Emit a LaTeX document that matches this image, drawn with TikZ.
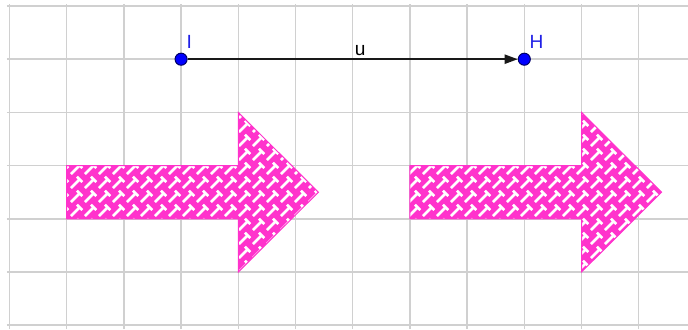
\documentclass[tikz,border=0pt]{standalone}
\usepackage{fontspec}
\setmainfont{Liberation Sans}
\usetikzlibrary{arrows.meta, patterns}
\definecolor{gridc}{HTML}{D0D0D0}
\definecolor{mag}{HTML}{FF33CC}
\definecolor{ptblu}{HTML}{0000FF}
\definecolor{lblblu}{HTML}{2020E6}

% white basket weave on the arrows
\pgfdeclarepatternformonly{weave}{\pgfpointorigin}{\pgfpoint{7pt}{7pt}}{\pgfpoint{7pt}{7pt}}{
  \pgfsetlinewidth{1.4pt}
  \pgfpathmoveto{\pgfpoint{0.5pt}{0.5pt}}
  \pgfpathlineto{\pgfpoint{4.7pt}{4.7pt}}
  \pgfpathmoveto{\pgfpoint{3.7pt}{6.5pt}}
  \pgfpathlineto{\pgfpoint{6.5pt}{3.7pt}}
  \pgfusepath{stroke}
}

\tikzset{
  gridln/.style = {draw=gridc, line width=0.75pt},
  pt/.style     = {circle, draw=blue!40!black, line width=0.5pt, fill=ptblu,
                   inner sep=0pt, minimum size=6pt},
  lbl/.style    = {text=lblblu, font=\fontsize{9.5}{11}\selectfont,
                   inner sep=0pt, anchor=base west},
  vec/.style    = {-{Triangle[length=6.5pt,width=4.5pt]}, line width=1pt,
                   color=black!90},
  bigarr/.style = {draw=mag, line width=0.5pt, preaction={fill=mag},
                   pattern=weave, pattern color=white},
}

\begin{document}
\begin{tikzpicture}[x=1cm, y=0.93cm]
  \useasboundingbox (-0.166,-0.075) rectangle (11.862,6.113);

  % grid
  \foreach \i in {0,...,11}
    \draw[gridln] (\i,-0.075) -- (\i,6.038);
  \foreach \j in {0,...,6}
    \draw[gridln] (-0.044,\j) -- (11.862,\j);

  % the two arrows, one the image of the other by u
  \foreach \s in {0,6}
    \path[bigarr] (1+\s,2) -- (4+\s,2) -- (4+\s,1) -- (5.4+\s,2.5)
      -- (4+\s,4) -- (4+\s,3) -- (1+\s,3) -- cycle;

  % vector u from I to H
  \node[pt] (I) at (3,5) {};
  \node[pt] (H) at (9,5) {};
  \node[lbl] (Ilbl) at ([xshift=2.5pt,yshift=5.5pt]I.center) {I};
  \node[lbl] (Hlbl) at ([xshift=2.5pt,yshift=5.5pt]H.center) {H};
  \draw[vec] (I) -- (H) node[midway, lbl, text=black, xshift=0.6pt, yshift=2pt] (u) {u};
\end{tikzpicture}
\end{document}
